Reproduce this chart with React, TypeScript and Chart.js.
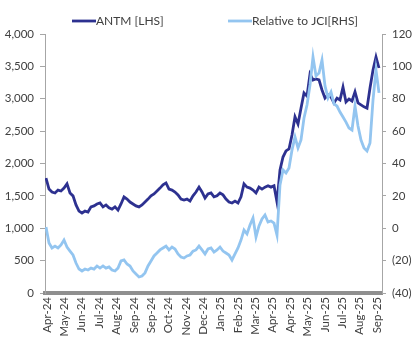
import React, { useEffect, useRef } from "react";
import { Chart, registerables } from "chart.js";

Chart.register(...registerables);

// ANTM share price (IDR), left axis
const antm: number[] = [
  1775, 1605, 1560, 1545, 1590, 1575, 1620, 1685, 1545, 1500,
  1360, 1265, 1235, 1265, 1250, 1330, 1345, 1375, 1390, 1330,
  1360, 1315, 1295, 1330, 1280, 1375, 1485, 1450, 1405, 1375,
  1345, 1330, 1360, 1405, 1450, 1500, 1530, 1575, 1620, 1670,
  1700, 1605, 1590, 1560, 1515, 1450, 1435, 1450, 1420, 1500,
  1560, 1635, 1560, 1465, 1530, 1545, 1485, 1500, 1545, 1515,
  1450, 1405, 1390, 1420, 1390, 1485, 1685, 1635, 1620, 1590,
  1545, 1635, 1605, 1635, 1655, 1635, 1655, 1405, 1900, 2100,
  2195, 2225, 2440, 2720, 2610, 2855, 3090, 3040, 3380, 3290,
  3305, 3290, 3135, 3010, 3060, 3025, 2935, 3010, 2980, 3180,
  2950, 2995, 2965, 3105, 2935, 2905, 2875, 2855, 3165, 3445,
  3645, 3475,
];

// Relative performance to JCI (%), right axis
const relJci: number[] = [
  0.8, -9.1, -12.2, -11.0, -12.2, -10.3, -7.3, -11.6, -14.1, -16.5,
  -21.5, -25.2, -26.4, -25.2, -25.8, -24.6, -25.2, -23.3, -24.6, -23.3,
  -24.6, -23.9, -25.8, -26.4, -24.6, -20.2, -19.6, -22.1, -23.3, -26.4,
  -28.3, -30.1, -29.5, -27.6, -23.3, -20.2, -17.1, -15.3, -13.4, -12.2,
  -11.0, -13.4, -11.6, -12.8, -15.9, -17.8, -18.4, -17.1, -16.5, -14.1,
  -13.4, -11.0, -13.4, -15.9, -12.8, -12.2, -14.7, -13.4, -11.6, -14.1,
  -15.3, -16.5, -19.6, -15.9, -12.2, -7.3, -1.1, -3.5, 2.0, 6.3,
  -5.4, 1.4, 5.7, 8.2, 3.9, 4.5, 3.2, -4.2, 26.7, 36.0,
  34.1, 37.2, 48.3, 56.4, 49.6, 54.5, 68.1, 76.1, 88.5, 105.8,
  94.1, 95.9, 103.9, 87.9, 80.5, 84.2, 76.8, 75.5, 71.8, 68.7,
  65.6, 61.9, 60.7, 75.5, 63.2, 54.5, 49.6, 47.7, 52.7, 79.2,
  97.8, 83.6,
];

const xLabels: string[] = [
  "Apr-24", "May-24", "Jun-24", "Jul-24", "Aug-24", "Sep-24", "Sep-24",
  "Oct-24", "Nov-24", "Dec-24", "Jan-25", "Feb-25", "Mar-25", "Apr-25",
  "Apr-25", "May-25", "Jun-25", "Jul-25", "Aug-25", "Sep-25",
];

const seriesNames: string[] = ["ANTM [LHS]", "Relative to JCI[RHS]"];
const leftTicks = { min: 0, max: 4000, step: 500 };
const rightTicks = { min: -40, max: 120, step: 20 };

const DARK = "#2d3190";
const LIGHT = "#93c5f0";
const TEXT = "#404040";
const AXIS = "#a6a6a6";
const FONT = "Lato";

export default function App() {
  const ref = useRef<HTMLCanvasElement | null>(null);

  useEffect(() => {
    if (!ref.current) return;
    const n = antm.length;
    const firstTick = 0.33;
    const lastTick = n - 1.7;
    const tickStep = (lastTick - firstTick) / (xLabels.length - 1);

    const legendPlugin = {
      id: "customLegend",
      afterDraw(chart: any) {
        const ctx = chart.ctx;
        ctx.save();
        ctx.font = `12px ${FONT}`;
        ctx.fillStyle = TEXT;
        ctx.textBaseline = "middle";
        const items = [
          { x: 72, color: DARK, text: seriesNames[0] },
          { x: 228, color: LIGHT, text: seriesNames[1] },
        ];
        items.forEach((it) => {
          ctx.strokeStyle = it.color;
          ctx.lineWidth = 2.8;
          ctx.beginPath();
          ctx.moveTo(it.x, 21);
          ctx.lineTo(it.x + 24, 21);
          ctx.stroke();
          ctx.fillText(it.text, it.x + 24, 21);
        });
        ctx.restore();
      },
    };

    const chart = new Chart(ref.current, {
      type: "line",
      data: {
        datasets: [
          {
            label: seriesNames[0],
            data: antm.map((v, i) => ({ x: i, y: v })),
            borderColor: DARK,
            backgroundColor: DARK,
            borderWidth: 2.8,
            pointRadius: 0,
            tension: 0,
            yAxisID: "yL",
            order: 1,
          },
          {
            label: seriesNames[1],
            data: relJci.map((v, i) => ({ x: i, y: v })),
            borderColor: LIGHT,
            backgroundColor: LIGHT,
            borderWidth: 2.8,
            pointRadius: 0,
            tension: 0,
            yAxisID: "yR",
            order: 0,
          },
        ],
      },
      options: {
        animation: false,
        responsive: false,
        layout: { padding: { top: 34, left: 0, right: 0, bottom: 0 } },
        plugins: { legend: { display: false }, tooltip: { enabled: false } },
        scales: {
          x: {
            type: "linear",
            min: -1 / 3,
            max: n,
            afterBuildTicks: (scale: any) => {
              scale.ticks = xLabels.map((_, k) => ({ value: firstTick + k * tickStep }));
            },
            afterFit: (scale: any) => {
              scale.height = 45;
            },
            ticks: {
              autoSkip: false,
              maxRotation: 90,
              minRotation: 90,
              padding: 4,
              color: TEXT,
              font: { family: FONT, size: 11.5 },
              callback: (_v: any, idx: number) => xLabels[idx],
            },
            grid: { display: true, drawOnChartArea: false, drawTicks: false, color: AXIS },
            border: { display: true, color: "#8f8f8f", width: 4 },
          },
          yL: {
            type: "linear",
            position: "left",
            min: leftTicks.min,
            max: leftTicks.max,
            afterFit: (scale: any) => {
              scale.width = 45;
            },
            ticks: {
              stepSize: leftTicks.step,
              padding: 6,
              color: TEXT,
              font: { family: FONT, size: 11.5 },
              callback: (v: any) => Number(v).toLocaleString("en-US"),
            },
            grid: { drawOnChartArea: false, tickLength: 5, color: AXIS },
            border: { display: true, color: AXIS, width: 1 },
          },
          yR: {
            type: "linear",
            position: "right",
            min: rightTicks.min,
            max: rightTicks.max,
            afterFit: (scale: any) => {
              scale.width = 32;
            },
            ticks: {
              stepSize: rightTicks.step,
              padding: 6,
              color: TEXT,
              font: { family: FONT, size: 11.5 },
              callback: (v: any) => (Number(v) < 0 ? `(${-Number(v)})` : `${v}`),
            },
            grid: { drawOnChartArea: false, tickLength: 4, color: AXIS },
            border: { display: true, color: AXIS, width: 1 },
          },
        },
      },
      plugins: [legendPlugin],
    } as any);

    return () => chart.destroy();
  }, []);

  return (
    <div style={{ position: "absolute", left: 0, top: 0, width: 414, height: 338, background: "#fff" }}>
      <canvas ref={ref} width={414} height={338} style={{ display: "block" }} />
    </div>
  );
}
